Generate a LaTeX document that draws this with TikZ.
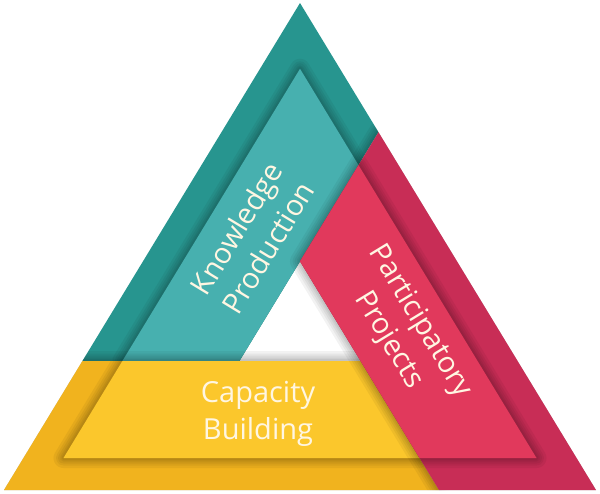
\documentclass[tikz,border=0pt]{standalone}
\usepackage{fontspec}
\setmainfont{Open Sans}
\definecolor{tealD}{HTML}{27958F}
\definecolor{tealL}{HTML}{47B0AF}
\definecolor{redD}{HTML}{C82D56}
\definecolor{redL}{HTML}{E1395C}
\definecolor{yelD}{HTML}{F1B31E}
\definecolor{yelL}{HTML}{FBC72C}
\definecolor{txt}{HTML}{FFF6E2}
\newcommand\mysoftshadow[1]{%
  \foreach \w in {20,15,11,7,4} {\draw[line join=round, black, opacity=0.05, line width=\w pt] #1;}}
\begin{document}
\begin{tikzpicture}[x=1pt,y=-1pt,
  lbl/.style={text=txt, align=center, font=\fontsize{29}{37}\selectfont, inner sep=0pt}]
\useasboundingbox (0,0) rectangle (600,493);
% outer geometry
\coordinate (A) at (300,3);
\coordinate (B) at (4,490);
\coordinate (C) at (596,490);
\coordinate (TL) at (82.4,361);
\coordinate (TM) at (239.4,361);
\coordinate (TR) at (378.5,132.2);
\coordinate (H) at (300,261.3);
\coordinate (RB) at (439,490);
\coordinate (RM) at (360.6,361);
% inner geometry
\coordinate (Ai) at (300,68.8);
\coordinate (TLi) at (122.4,361);
\coordinate (K) at (358.5,165.1);
\coordinate (RBi) at (536.5,458);
\coordinate (RBl) at (419.5,458);
\coordinate (BLi) at (63.5,458);

% ---- teal band (Knowledge Production)
\fill[tealD] (A) -- (TL) -- (TM) -- (TR) -- cycle;
\begin{scope}
  \clip (A) -- (TL) -- (TM) -- (TR) -- cycle;
  \mysoftshadow{(Ai) -- (TLi) -- (TM) -- (K) -- cycle}
\end{scope}
\fill[tealL] (Ai) -- (TLi) -- (TM) -- (K) -- cycle;

% ---- yellow band (Capacity Building)
\begin{scope}
  \clip (A) -- (B) -- (C) -- cycle;
  \mysoftshadow{(TL) -- (B) -- (RB) -- (RM) -- cycle}
\end{scope}
\fill[yelD] (TL) -- (B) -- (RB) -- (RM) -- cycle;
\begin{scope}
  \clip (TL) -- (B) -- (RB) -- (RM) -- cycle;
  \mysoftshadow{(TLi) -- (BLi) -- (RBl) -- (RM) -- cycle}
\end{scope}
\fill[yelL] (TLi) -- (BLi) -- (RBl) -- (RM) -- cycle;

% ---- red band (Participatory Projects)
\begin{scope}
  \clip (A) -- (B) -- (C) -- cycle;
  \mysoftshadow{(TR) -- (C) -- (RB) -- (H) -- cycle}
\end{scope}
\fill[redD] (TR) -- (C) -- (RB) -- (H) -- cycle;
\begin{scope}
  \clip (TR) -- (C) -- (RB) -- (H) -- cycle;
  \mysoftshadow{(K) -- (RBi) -- (RBl) -- (H) -- cycle}
\end{scope}
\fill[redL] (K) -- (RBi) -- (RBl) -- (H) -- cycle;

% ---- labels
\node[lbl, rotate=58.7] (kp) at (252,238) {Knowledge\\Production};
\node[lbl, rotate=-58.7] (pp) at (404,331) {Participatory\\Projects};
\node[lbl] (cb) at (258,414) {Capacity\\Building};
\end{tikzpicture}
\end{document}
